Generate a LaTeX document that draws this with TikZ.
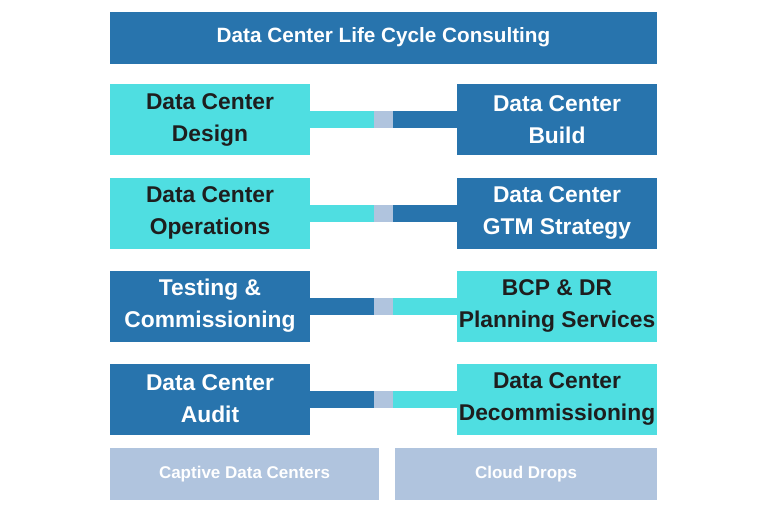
\documentclass[tikz,border=0pt]{standalone}
\usepackage{fontspec}
\setmainfont{Liberation Sans}
\definecolor{dcblue}{HTML}{2874AD}
\definecolor{dccyan}{HTML}{4FDEE1}
\definecolor{dcgray}{HTML}{B0C4DE}
\definecolor{dcdark}{HTML}{1E1E1E}
\begin{document}
\begin{tikzpicture}[x=1pt,y=-1pt,
  box/.style={inner sep=0pt,outer sep=0pt,minimum width=200pt,minimum height=71pt,align=center,
     font=\fontsize{22.8}{32}\selectfont\bfseries},
  bluebox/.style={box,fill=dcblue,text=white},
  cyanbox/.style={box,fill=dccyan,text=dcdark},
  joint/.style={fill=dcgray,inner sep=0pt,outer sep=0pt,minimum width=19pt,minimum height=17pt},
  bluebar/.style={draw=dcblue,line width=17pt},
  cyanbar/.style={draw=dccyan,line width=17pt},
  base/.style={fill=dcgray,text=white,inner sep=0pt,outer sep=0pt,minimum height=52pt,
     font=\fontsize{17}{20}\selectfont\bfseries}]
\useasboundingbox (0,0) rectangle (768,512);
\node[fill=dcblue,text=white,inner sep=0pt,minimum width=547pt,minimum height=52pt,
  font=\fontsize{20.7}{24}\selectfont\bfseries] (title) at (383.5,37.5) {Data Center Life Cycle Consulting};
% row 1
\node[cyanbox] (l1) at (210,119.5) {Data Center\\Design};
\node[bluebox] (r1) at (557,119.5) {Data Center\\Build};
\node[joint] (g1) at (383.5,119.5) {};
\draw[cyanbar] (l1.east) -- (g1.west);
\draw[bluebar] (g1.east) -- (r1.west);
% row 2
\node[cyanbox] (l2) at (210,213) {Data Center\\Operations};
\node[bluebox] (r2) at (557,213) {Data Center\\GTM Strategy};
\node[joint] (g2) at (383.5,213) {};
\draw[cyanbar] (l2.east) -- (g2.west);
\draw[bluebar] (g2.east) -- (r2.west);
% row 3
\node[bluebox] (l3) at (210,306) {Testing \&\\Commissioning};
\node[cyanbox] (r3) at (557,306) {BCP \& DR\\Planning Services};
\node[joint] (g3) at (383.5,306) {};
\draw[bluebar] (l3.east) -- (g3.west);
\draw[cyanbar] (g3.east) -- (r3.west);
% row 4
\node[bluebox] (l4) at (210,399) {Data Center\\Audit};
\node[cyanbox] (r4) at (557,399) {Data Center\\Decommissioning};
\node[joint] (g4) at (383.5,399) {};
\draw[bluebar] (l4.east) -- (g4.west);
\draw[cyanbar] (g4.east) -- (r4.west);
% base
\node[base,minimum width=269pt] (cap) at (244.5,474) {Captive Data Centers};
\node[base,minimum width=262pt] (cloud) at (526,474) {Cloud Drops};
\end{tikzpicture}
\end{document}
